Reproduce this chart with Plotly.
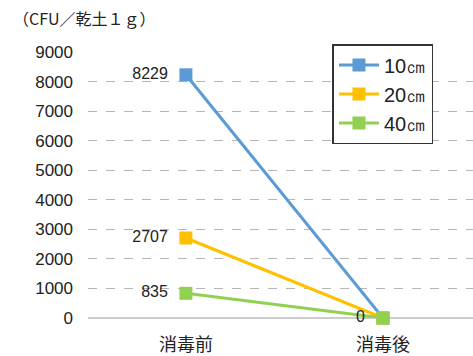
import plotly.graph_objects as go

categories = ["消毒前", "消毒後"]
series_names = ["10㎝", "20㎝", "40㎝"]
values_10 = [8229, 0]
values_20 = [2707, 0]
values_40 = [835, 0]
y_ticks = [0, 1000, 2000, 3000, 4000, 5000, 6000, 7000, 8000, 9000]

colors = ["#5B9BD5", "#FFC000", "#92D050"]
all_values = [values_10, values_20, values_40]

fig = go.Figure()
for i, (name, vals, col) in enumerate(zip(series_names, all_values, colors)):
    labels = [str(v) for v in vals]
    if i < len(all_values) - 1:
        labels[1] = ""  # identical zero labels overlap; show once
    labels = [s + "  " if s else s for s in labels]
    fig.add_trace(go.Scatter(
        x=[0, 1], y=vals, name=name, mode="lines+markers+text",
        line=dict(color=col, width=3),
        marker=dict(symbol="square", size=13, color=col),
        text=labels, textposition="middle left",
        textfont=dict(size=16, color="#222222", family="Liberation Sans, Arial"),
        cliponaxis=False,
    ))

fig.update_layout(
    width=473, height=356,
    margin=dict(l=88, r=0, t=52, b=35),
    paper_bgcolor="white", plot_bgcolor="white",
    showlegend=True,
    legend=dict(x=0.635, y=1.03, xanchor="left", yanchor="top",
                bordercolor="#333333", borderwidth=1.5, bgcolor="white",
                font=dict(size=20, family="Liberation Sans, Arial", color="#222222"),
                itemwidth=40, tracegroupgap=0),
    annotations=[dict(text="（CFU／乾土１ｇ）", xref="paper", yref="paper",
                      x=-0.2, y=1.0, xanchor="left", yanchor="bottom",
                      yshift=20, showarrow=False,
                      font=dict(size=16, family="Noto Sans CJK JP", color="#222222"))],
)
fig.update_xaxes(
    range=[-0.497, 1.457], tickvals=[0, 1], ticktext=categories,
    showgrid=False, zeroline=False, showline=False,
    tickfont=dict(size=18, family="Noto Sans CJK JP", color="#222222"),
    ticks="", ticklen=0, ticklabelstandoff=14,
)
fig.update_yaxes(
    range=[0, 9000], tickvals=y_ticks, ticktext=[str(t) for t in y_ticks],
    showgrid=True, gridcolor="#B5B5B5", griddash="dash", gridwidth=1,
    zeroline=True, zerolinecolor="#CCCCCC", zerolinewidth=1.5,
    showline=False, ticks="", ticklabelstandoff=14,
    tickfont=dict(size=17, family="Liberation Sans, Arial", color="#222222"),
)
fig.write_html("out.html")
